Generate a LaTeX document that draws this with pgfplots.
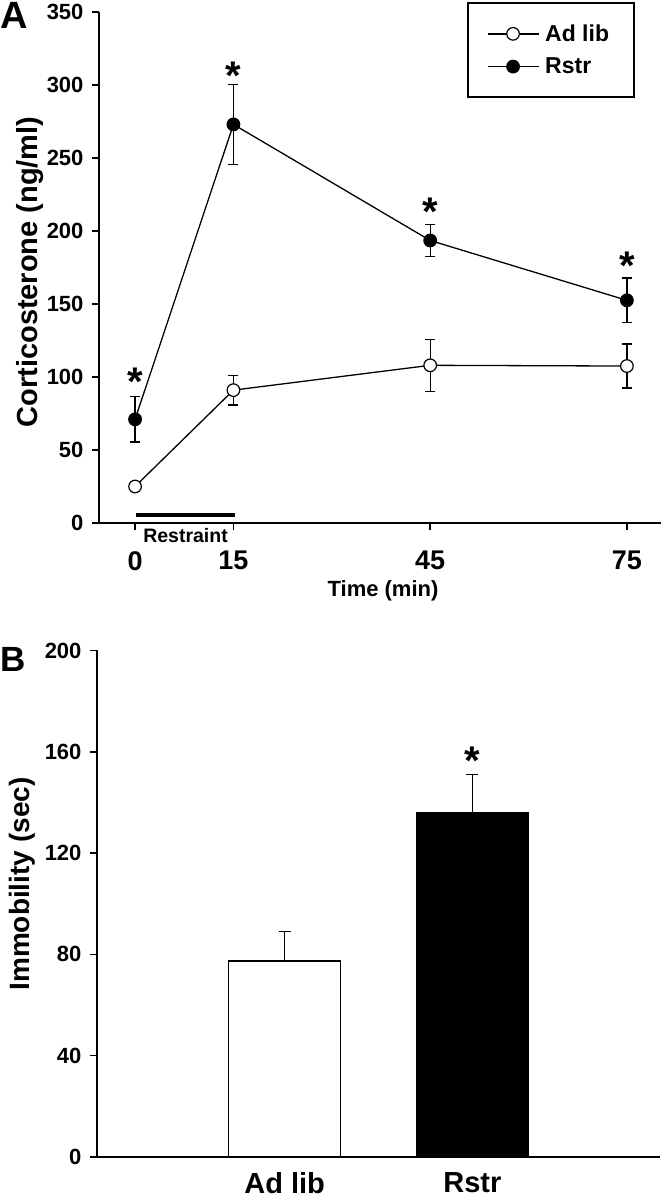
\documentclass[border=0pt]{standalone}
\usepackage{fontspec}
\setmainfont{Liberation Sans}
\usepackage{pgfplots}
\pgfplotsset{compat=1.18}
\newcommand{\fs}[1]{\fontsize{#1pt}{#1pt}\selectfont\bfseries}
\begin{document}
\begin{tikzpicture}
\useasboundingbox (0pt,0pt) rectangle (662pt,1199pt);
% ---------------- Panel A ----------------
\begin{axis}[
  at={(99pt,676pt)}, anchor=south west,
  width=562pt, height=511pt, scale only axis,
  xmin=-5.5, xmax=80.2, ymin=0, ymax=350,
  axis x line=bottom, axis y line=left,
  axis line style={-, line width=1.9pt},
  xtick={0,15,45,75}, ytick={0,50,...,350},
  tick align=outside, major tick length=7pt,
  tick style={black, line width=1.6pt},
  /pgf/number format/assume math mode=true,
  xticklabel style={font=\fs{27}, anchor=north, inner sep=0pt, yshift=-21pt},
  yticklabel style={font=\fs{22}, xshift=-5pt},
  clip=false,
  legend style={at={(0.655,1.0196)}, anchor=north west, draw=black, line width=1.6pt,
     font=\fs{23}, inner xsep=19pt, inner ysep=20pt, row sep=11pt,
     nodes={inner xsep=6pt}},
  legend cell align=left,
  legend image code/.code={\draw[mark repeat=2,mark phase=2,#1] plot coordinates {(0pt,0pt) (25.5pt,0pt) (51pt,0pt)};},
]
\addplot[black, line width=1.3pt, mark=*, mark size=6.3pt, mark options={fill=white, line width=1.2pt},
  error bars/.cd, y dir=both, y explicit,
  error bar style={line width=1.3pt},
  error mark options={rotate=90, mark size=5pt, line width=1.3pt}]
  coordinates {(0,25) +- (0,0) (15,91) +- (0,10.2) (45,108) +- (0,17.7) (75,107.5) +- (0,15)};
\addlegendentry{Ad lib}
\addplot[black, line width=1.3pt, mark=*, mark size=6.3pt, mark options={fill=black, line width=1.2pt},
  error bars/.cd, y dir=both, y explicit,
  error bar style={line width=1.3pt},
  error mark options={rotate=90, mark size=5pt, line width=1.3pt}]
  coordinates {(0,71) +- (0,15.5) (15,273) +- (0,27.5) (45,193.5) +- (0,11) (75,152.5) +- (0,15.2)};
\addlegendentry{Rstr}
% restraint period bar
\addplot[black, line width=3.2pt, mark=none, forget plot] coordinates {(0.2,5.5) (15.2,5.5)};
\node[anchor=base, font=\fs{19.5}, inner sep=0pt] at (axis cs:7.7,-13.7) {Restraint};
% significance stars
\node[anchor=north, inner sep=0pt, font=\fs{40}] at (axis cs:0,106) {*};
\node[anchor=north, inner sep=0pt, font=\fs{40}] at (axis cs:15,315.8) {*};
\node[anchor=north, inner sep=0pt, font=\fs{40}] at (axis cs:45,222.6) {*};
\node[anchor=north, inner sep=0pt, font=\fs{40}] at (axis cs:75,185.6) {*};
\end{axis}
\node[anchor=north west, inner sep=0pt, font=\fs{38}] at (0pt,1197pt) {A};
\node[rotate=90, anchor=base, inner sep=0pt, font=\fs{29}] at (37pt,927pt) {Corticosterone (ng/ml)};
\node[anchor=base, inner sep=0pt, font=\fs{22}] at (383pt,602pt) {Time (min)};
% ---------------- Panel B ----------------
\begin{axis}[
  at={(97pt,42pt)}, anchor=south west,
  width=563pt, height=506.5pt, scale only axis,
  xmin=0, xmax=3, ymin=0, ymax=200,
  axis x line=bottom, axis y line=left,
  axis line style={-, line width=1.9pt},
  xtick={1,2}, xticklabels={Ad lib, Rstr},
  ytick={0,40,...,200},
  tick align=outside, major tick length=7pt,
  tick style={black, line width=1.6pt},
  x tick style={draw=none},
  /pgf/number format/assume math mode=true,
  xticklabel style={font=\fs{29}, anchor=north, inner sep=0pt, yshift=-8pt},
  yticklabel style={font=\fs{22}, xshift=-5pt},
  clip=false,
]
\addplot[ybar, bar width=112pt, fill=white, draw=black, line width=1.5pt,
  error bars/.cd, y dir=plus, y explicit,
  error bar style={line width=1.5pt},
  error mark options={rotate=90, mark size=6pt, line width=1.5pt}]
  coordinates {(1,77.4) +- (0,11.7)};
\addplot[ybar, bar width=112pt, fill=black, draw=black, line width=1.5pt,
  error bars/.cd, y dir=plus, y explicit,
  error bar style={line width=1.5pt},
  error mark options={rotate=90, mark size=6pt, line width=1.5pt}]
  coordinates {(2,136) +- (0,15)};
\node[anchor=north, inner sep=0pt, font=\fs{40}] at (axis cs:2,162.1) {*};
\end{axis}
\node[anchor=north west, inner sep=0pt, font=\fs{35}] at (0pt,552pt) {B};
\node[rotate=90, anchor=base, inner sep=0pt, font=\fs{28}] at (29pt,315pt) {Immobility (sec)};
\end{tikzpicture}
\end{document}
